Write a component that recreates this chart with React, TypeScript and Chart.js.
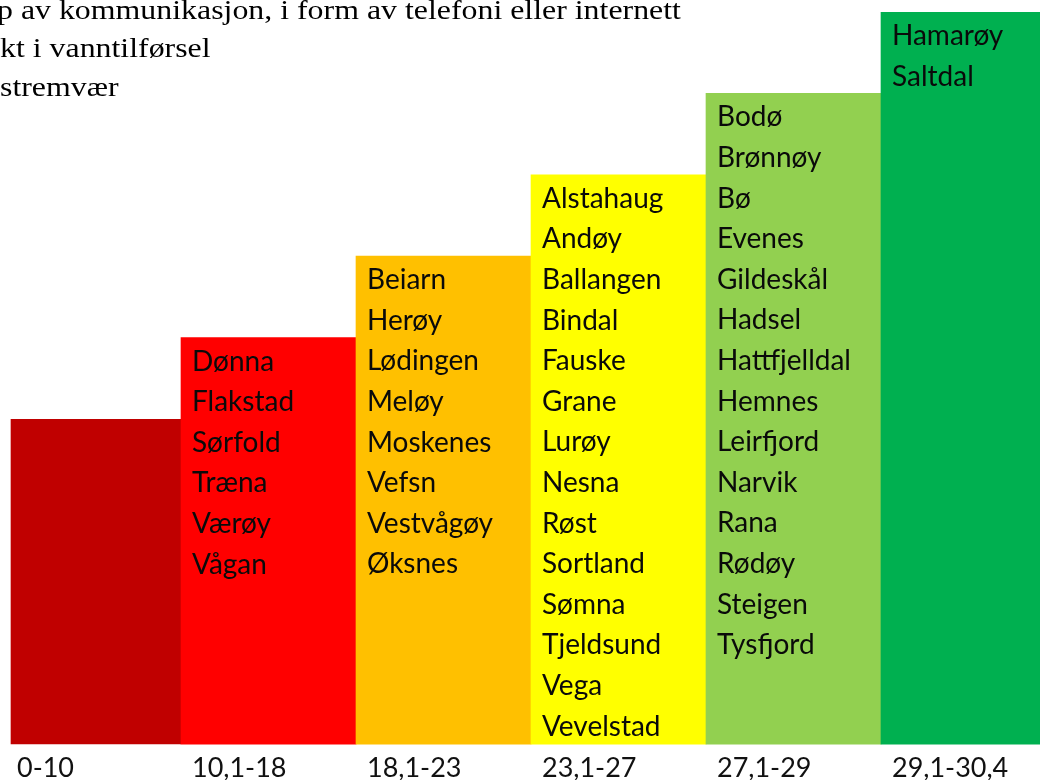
import React, { useEffect, useRef } from "react";
import { Chart, registerables } from "chart.js";

Chart.register(...registerables);

// ---- data ----
const categories = ["0-10", "10,1-18", "18,1-23", "23,1-27", "27,1-29", "29,1-30,4"];
const levels = [4, 5, 6, 7, 8, 9];
const barColors = ["#C00000", "#FF0000", "#FFC000", "#FFFF00", "#92D050", "#00B050"];

const names0: string[] = [];
const names1 = ["Dønna", "Flakstad", "Sørfold", "Træna", "Værøy", "Vågan"];
const names2 = ["Beiarn", "Herøy", "Lødingen", "Meløy", "Moskenes", "Vefsn", "Vestvågøy", "Øksnes"];
const names3 = [
  "Alstahaug", "Andøy", "Ballangen", "Bindal", "Fauske", "Grane", "Lurøy",
  "Nesna", "Røst", "Sortland", "Sømna", "Tjeldsund", "Vega", "Vevelstad",
];
const names4 = [
  "Bodø", "Brønnøy", "Bø", "Evenes", "Gildeskål", "Hadsel", "Hattfjelldal",
  "Hemnes", "Leirfjord", "Narvik", "Rana", "Rødøy", "Steigen", "Tysfjord",
];
const names5 = ["Hamarøy", "Saltdal"];
const barNames = [names0, names1, names2, names3, names4, names5];

const captionLines = [
  "p av kommunikasjon, i form av telefoni eller internett",
  "kt i vanntilførsel",
  "stremvær",
];

const namesPlugin = {
  id: "barNames",
  afterDatasetsDraw(chart: any) {
    const meta = chart.getDatasetMeta(0);
    const ctx = chart.ctx;
    ctx.save();
    ctx.font = "28px Lato";
    ctx.fillStyle = "#0a0a0a";
    ctx.textBaseline = "middle";
    ctx.textAlign = "left";
    meta.data.forEach((bar: any, i: number) => {
      const { x, y, width } = bar.getProps(["x", "y", "width"], true);
      const left = x - width / 2 + 11;
      barNames[i].forEach((n, j) => {
        ctx.fillText(n, left, y + 24 + j * 40.6);
      });
    });
    ctx.restore();
  },
};

export default function App() {
  const ref = useRef<HTMLCanvasElement | null>(null);

  useEffect(() => {
    if (!ref.current) return;
    const chart = new Chart(ref.current, {
      type: "bar",
      data: {
        labels: categories,
        datasets: [
          {
            data: levels,
            backgroundColor: barColors,
            borderColor: ["#ffffff", "#ffffff", "#ffffff", "#ffffff", "#ffffff", "#ffffff"],
            borderWidth: [
              { left: 5, top: 0, right: 0, bottom: 0 },
              0, 0, 0, 0, 0,
            ] as any,
            borderSkipped: false,
            barPercentage: 1,
            categoryPercentage: 1,
          },
        ],
      },
      options: {
        animation: false,
        responsive: false,
        devicePixelRatio: 1,
        layout: { padding: { left: 6, top: 12, right: 0, bottom: 0 } },
        plugins: { legend: { display: false }, tooltip: { enabled: false }, title: { display: false } },
        scales: {
          x: {
            grid: { display: false, drawTicks: false },
            border: { display: false },
            afterFit: (scale: any) => {
              scale.paddingLeft = 0;
              scale.paddingRight = 0;
            },
            ticks: {
              autoSkip: false,
              maxRotation: 0,
              minRotation: 0,
              align: "start",
              labelOffset: -76.5,
              padding: 7,
              color: "#111111",
              font: { family: "Lato", size: 27, lineHeight: 1.2 },
            },
          },
          y: {
            display: false,
            min: 0,
            max: 9,
          },
        },
      },
      plugins: [namesPlugin],
    });
    return () => chart.destroy();
  }, []);

  return (
    <div
      style={{
        position: "fixed",
        left: 0,
        top: 0,
        width: 1040,
        height: 780,
        overflow: "hidden",
        background: "#ffffff",
      }}
    >
      <canvas
        ref={ref}
        width={1056}
        height={791}
        style={{ position: "absolute", left: 0, top: 0, width: 1056, height: 791 }}
      />
      {captionLines.map((line, i) => (
        <div
          key={i}
          style={{
            position: "absolute",
            left: i === 0 ? -3 : 0,
            top: [-3, 34.5, 73.5][i],
            fontFamily: "'Liberation Serif', 'Times New Roman', serif",
            fontSize: 27,
            lineHeight: 1,
            whiteSpace: "nowrap",
            color: "#000",
            transform: "scaleX(1.18)",
            transformOrigin: "left top",
          }}
        >
          {line}
        </div>
      ))}
    </div>
  );
}
